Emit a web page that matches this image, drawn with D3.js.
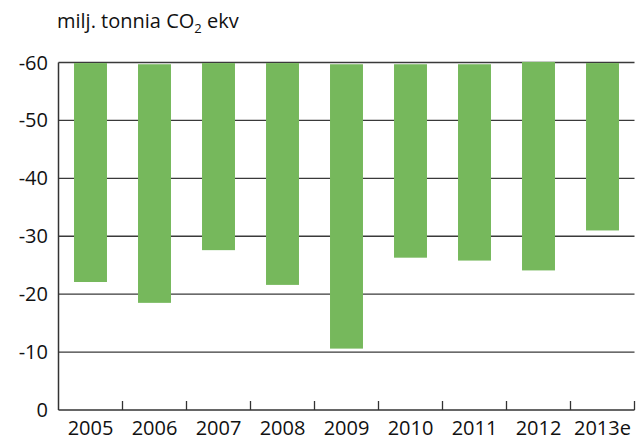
<!DOCTYPE html>
<html>
<head>
<meta charset="utf-8">
<script src="https://cdn.jsdelivr.net/npm/d3@7"></script>
<style>
  body { margin: 0; background: #fff; }
  svg { display: block; font-family: "Open Sans", sans-serif; }
</style>
</head>
<body>
<svg></svg>
<script>
var svgWidth = 644;
var svgHeight = 441;

// chart data
var years = ["2005", "2006", "2007", "2008", "2009", "2010", "2011", "2012", "2013e"];
var barTop = [-59.9, -59.7, -59.9, -59.9, -59.7, -59.7, -59.7, -60.1, -59.9];
var barBottom = [-22.1, -18.5, -27.6, -21.6, -10.6, -26.3, -25.8, -24.1, -31.0];
var yTicks = [0, -10, -20, -30, -40, -50, -60];

var margin = { left: 58.5, right: 9.5, top: 62.5, bottom: 31 };

var svg = d3.select("svg")
    .attr("width", svgWidth)
    .attr("height", svgHeight);

var x = d3.scaleBand()
    .domain(years)
    .range([margin.left, svgWidth - margin.right])
    .paddingInner(0.485)
    .paddingOuter(0.2425);

var y = d3.scaleLinear()
    .domain([0, -60])
    .range([svgHeight - margin.bottom, margin.top]);

// gridlines
svg.append("g")
    .selectAll("line")
    .data(yTicks.filter(function (d) { return d != 0; }))
    .join("line")
    .attr("x1", margin.left)
    .attr("x2", svgWidth - margin.right)
    .attr("y1", function (d) { return y(d); })
    .attr("y2", function (d) { return y(d); })
    .attr("stroke", "#3a3a3a")
    .attr("stroke-width", 1.4);

// bars
svg.append("g")
    .selectAll("rect")
    .data(years)
    .join("rect")
    .attr("x", function (d) { return x(d); })
    .attr("width", x.bandwidth())
    .attr("y", function (d, i) { return y(barTop[i]); })
    .attr("height", function (d, i) { return y(barBottom[i]) - y(barTop[i]); })
    .attr("fill", "#76b85c");

// y axis line
svg.append("line")
    .attr("x1", margin.left)
    .attr("x2", margin.left)
    .attr("y1", margin.top)
    .attr("y2", y(0))
    .attr("stroke", "#333")
    .attr("stroke-width", 1.5);

// x axis line + ticks between categories
svg.append("line")
    .attr("x1", margin.left)
    .attr("x2", svgWidth - margin.right)
    .attr("y1", y(0))
    .attr("y2", y(0))
    .attr("stroke", "#333")
    .attr("stroke-width", 1.5);

var step = x.step();
var boundaries = years.map(function (d, i) { return margin.left + step * (i + 1); });
svg.append("g")
    .selectAll("line")
    .data(boundaries)
    .join("line")
    .attr("x1", function (d) { return d; })
    .attr("x2", function (d) { return d; })
    .attr("y1", y(0))
    .attr("y2", y(0) - 9)
    .attr("stroke", "#333")
    .attr("stroke-width", 1.3);

// y tick labels
svg.append("g")
    .selectAll("text")
    .data(yTicks)
    .join("text")
    .attr("x", 48)
    .attr("y", function (d) { return y(d) + 7; })
    .attr("text-anchor", "end")
    .attr("font-size", 20)
    .attr("fill", "#111")
    .text(function (d) { return d; });

// x tick labels
svg.append("g")
    .selectAll("text")
    .data(years)
    .join("text")
    .attr("x", function (d) { return x(d) + x.bandwidth() / 2; })
    .attr("y", 435)
    .attr("text-anchor", "middle")
    .attr("font-size", 20)
    .attr("fill", "#111")
    .text(function (d) { return d; });

// unit title
var title = svg.append("text")
    .attr("x", 57)
    .attr("y", 28)
    .attr("font-size", 20)
    .attr("fill", "#111");
title.append("tspan").text("milj. tonnia CO");
title.append("tspan").attr("font-size", 13).attr("dy", 5).text("2");
title.append("tspan").attr("dy", -5).text(" ekv");
</script>
</body>
</html>
